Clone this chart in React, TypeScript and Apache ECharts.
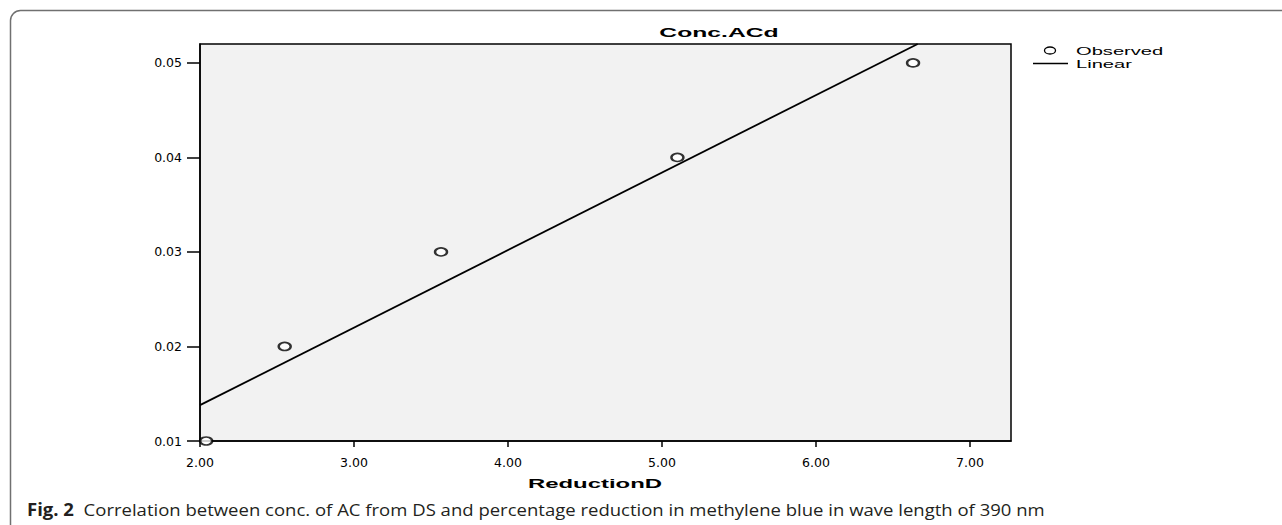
import React, { useEffect, useRef } from "react";
import * as echarts from "echarts";

// ---- data ----
const observedX = [2.04, 2.55, 3.565, 5.1, 6.63];
const observedY = [0.01, 0.02, 0.03, 0.04, 0.05];
const linearX = [2.0, 6.66];
const linearY = [0.0138, 0.052];
const xTicks = [2, 3, 4, 5, 6, 7];
const yTicks = [0.01, 0.02, 0.03, 0.04, 0.05];
const xRange = [2, 7.266];
const yRange = [0.01, 0.052];
const titleText = "Conc.ACd";
const xName = "ReductionD";
const legendNames = ["Observed", "Linear"];
const captionLabel = "Fig. 2";
const captionText =
  "Correlation between conc. of AC from DS and percentage reduction in methylene blue in wave length of 390 nm";

export default function App() {
  const ref = useRef<HTMLDivElement>(null);
  useEffect(() => {
    if (!ref.current) return;
    const chart = echarts.init(ref.current, null, { renderer: "svg" });
    const chartFont = "Liberation Sans";
    const option: any = {
      animation: false,
      backgroundColor: "#ffffff",
      grid: {
        left: 200,
        top: 44,
        width: 811,
        height: 397,
        show: true,
        backgroundColor: "#f2f2f2",
        borderColor: "#000",
        borderWidth: 1.5,
      },
      xAxis: {
        type: "value",
        min: xRange[0],
        max: xRange[1],
        splitLine: { show: false },
        axisLine: { show: true, onZero: false, lineStyle: { color: "#000", width: 1.5 } },
        axisTick: {
          show: true,
          length: 6,
          customValues: xTicks,
          lineStyle: { color: "#000", width: 1.5 },
        },
        axisLabel: {
          customValues: xTicks,
          formatter: (v: number) => v.toFixed(2),
          margin: 15,
          color: "#000",
          fontFamily: "DejaVu Sans",
          fontSize: 12.5,
        },
      },
      yAxis: {
        type: "value",
        min: yRange[0],
        max: yRange[1],
        splitLine: { show: false },
        axisLine: { show: true, onZero: false, lineStyle: { color: "#000", width: 1.5 } },
        axisTick: {
          show: true,
          length: 13,
          customValues: yTicks,
          lineStyle: { color: "#000", width: 1.5 },
        },
        axisLabel: {
          customValues: yTicks,
          formatter: (v: number) => v.toFixed(2),
          margin: 18,
          color: "#000",
          fontFamily: "DejaVu Sans",
          fontSize: 12.5,
        },
      },
      series: [
        {
          name: legendNames[0],
          type: "scatter",
          symbol: "emptyCircle",
          symbolSize: [12, 8],
          clip: false,
          itemStyle: { color: "#000", borderColor: "#000", borderWidth: 1.3 },
          data: observedX.map((x, i) => [x, observedY[i]]),
          z: 5,
        },
        {
          name: legendNames[1],
          type: "line",
          symbol: "none",
          lineStyle: { color: "#000", width: 1.8 },
          data: linearX.map((x, i) => [x, linearY[i]]),
          z: 4,
        },
      ],
      graphic: [
        {
          type: "rect",
          shape: { x: 10.5, y: 10.5, width: 1500, height: 800, r: 10 },
          style: { fill: "none", stroke: "#707070", lineWidth: 1.5 },
          silent: true,
        },
        {
          type: "text",
          x: 719,
          y: 32,
          scaleX: 1.9,
          style: {
            text: titleText,
            fontFamily: chartFont,
            fontWeight: "bold",
            fontSize: 13,
            fill: "#000",
            textAlign: "center",
            textVerticalAlign: "middle",
          },
        },
        {
          type: "text",
          x: 595,
          y: 484,
          scaleX: 1.84,
          style: {
            text: xName,
            fontFamily: chartFont,
            fontWeight: "bold",
            fontSize: 13,
            fill: "#000",
            textAlign: "center",
            textVerticalAlign: "middle",
          },
        },
        // legend
        {
          type: "ellipse",
          shape: { cx: 1050, cy: 50.5, rx: 5.5, ry: 3.5 },
          style: { fill: "#fff", stroke: "#000", lineWidth: 1.3 },
        },
        {
          type: "line",
          shape: { x1: 1033, y1: 63.5, x2: 1068, y2: 63.5 },
          style: { stroke: "#000", lineWidth: 1.6 },
        },
        {
          type: "text",
          x: 1076,
          y: 51,
          scaleX: 1.75,
          style: {
            text: legendNames[0],
            fontFamily: chartFont,
            fontSize: 11.5,
            fill: "#000",
            textAlign: "left",
            textVerticalAlign: "middle",
          },
        },
        {
          type: "text",
          x: 1076,
          y: 64,
          scaleX: 1.75,
          style: {
            text: legendNames[1],
            fontFamily: chartFont,
            fontSize: 11.5,
            fill: "#000",
            textAlign: "left",
            textVerticalAlign: "middle",
          },
        },
        // caption
        {
          type: "text",
          x: 27,
          y: 509,
          scaleX: 1.09,
          style: {
            text: "{b|" + captionLabel + "}  " + captionText,
            fontFamily: "Open Sans",
            fontSize: 17,
            fill: "#231f20",
            textAlign: "left",
            textVerticalAlign: "middle",
            rich: {
              b: { fontFamily: "Open Sans", fontWeight: "bold", fontSize: 17, fill: "#231f20" },
            },
          },
        },
      ],
    };
    chart.setOption(option);
    return () => chart.dispose();
  }, []);
  return (
    <div
      ref={ref}
      style={{ position: "fixed", left: 0, top: 0, width: 1282, height: 525 }}
    />
  );
}
